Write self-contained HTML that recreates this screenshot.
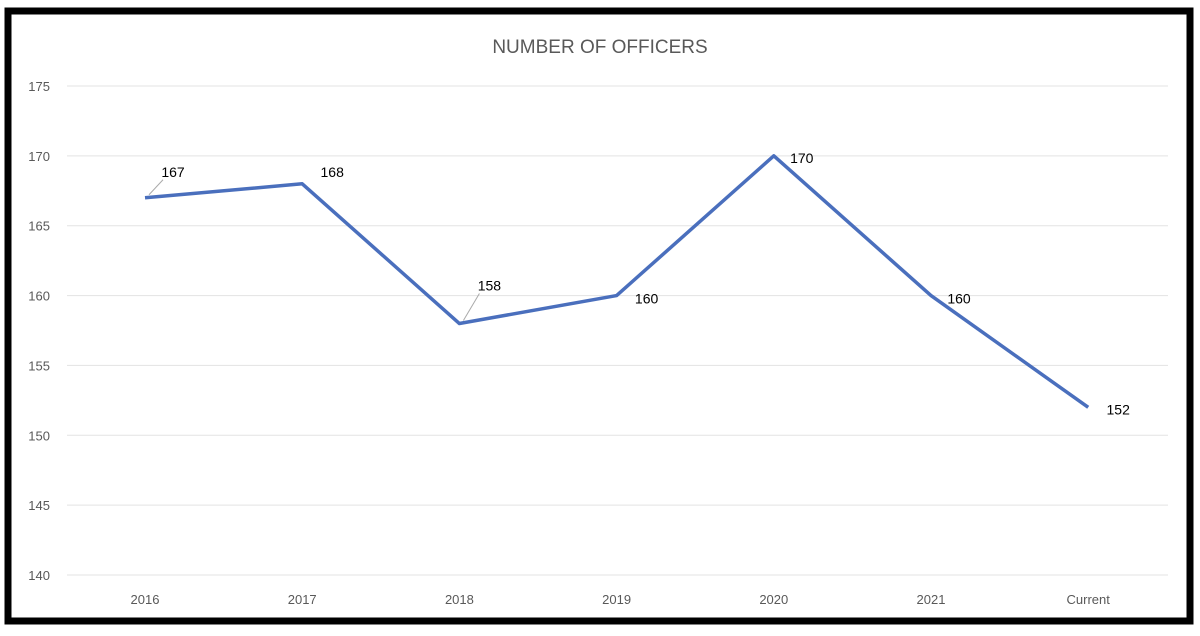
<!DOCTYPE html>
<html><head><style>
body{margin:0;background:#fff;width:1200px;height:631px;overflow:hidden;font-family:"Liberation Sans",sans-serif}
</style></head><body>
<svg width="1200" height="631">
<rect x="8" y="11" width="1182" height="610" fill="#fff" stroke="#000" stroke-width="7"/>
<text x="600" y="53" text-anchor="middle" font-size="19" fill="#595959">NUMBER OF OFFICERS</text>
<g id="grid"></g><g id="ylab"></g><g id="xlab"></g><g id="series"></g><g id="vlab"></g>
</svg>
<script>
const categories=["2016","2017","2018","2019","2020","2021","Current"];
const values=[167,168,158,160,170,160,152];
const yTicks=[140,145,150,155,160,165,170,175];
const labelOffsets=[[28,-26],[30,-12],[30,-38],[30,3],[28,2],[28,3],[30,2]];
const NS="http://www.w3.org/2000/svg";
function y(v){return 575-(v-140)*(489/35);}
function x(i){return 145+i*157.2;}
function mk(t,a,p){const e=document.createElementNS(NS,t);for(const k in a)e.setAttribute(k,a[k]);document.getElementById(p).appendChild(e);return e;}
yTicks.forEach(v=>{
 const l=mk("line",{x1:67,x2:1168,y1:y(v),y2:y(v),stroke:"#e3e3e3","stroke-width":1},"grid");
 
 
 const t=mk("text",{x:50,y:y(v)+5,"text-anchor":"end","font-size":13,fill:"#595959"},"ylab");
 t.textContent=v;
 
 
});
categories.forEach((c,i)=>{
 const t=mk("text",{x:x(i),y:604,"text-anchor":"middle","font-size":13,fill:"#595959"},"xlab");
 t.textContent=c;
 
 
});
const p=mk("polyline",{points:values.map((v,i)=>x(i)+","+y(v)).join(" "),fill:"none",stroke:"#4a6fbd","stroke-width":3.5,"stroke-linejoin":"round"},"series");


values.forEach((v,i)=>{
 const o=labelOffsets[i];
 const t=mk("text",{x:x(i)+o[0],y:y(v)+o[1]+5,"text-anchor":"middle","font-size":14,fill:"#000"},"vlab");
 t.textContent=v;
 
 
 if(o[1]<-20){
  const l=mk("line",{x1:x(i)+4,y1:y(v)-3,x2:x(i)+o[0]-10,y2:y(v)+o[1]+8,stroke:"#aaa","stroke-width":1},"vlab");
  
  
 }
});
</script>
</body></html>
